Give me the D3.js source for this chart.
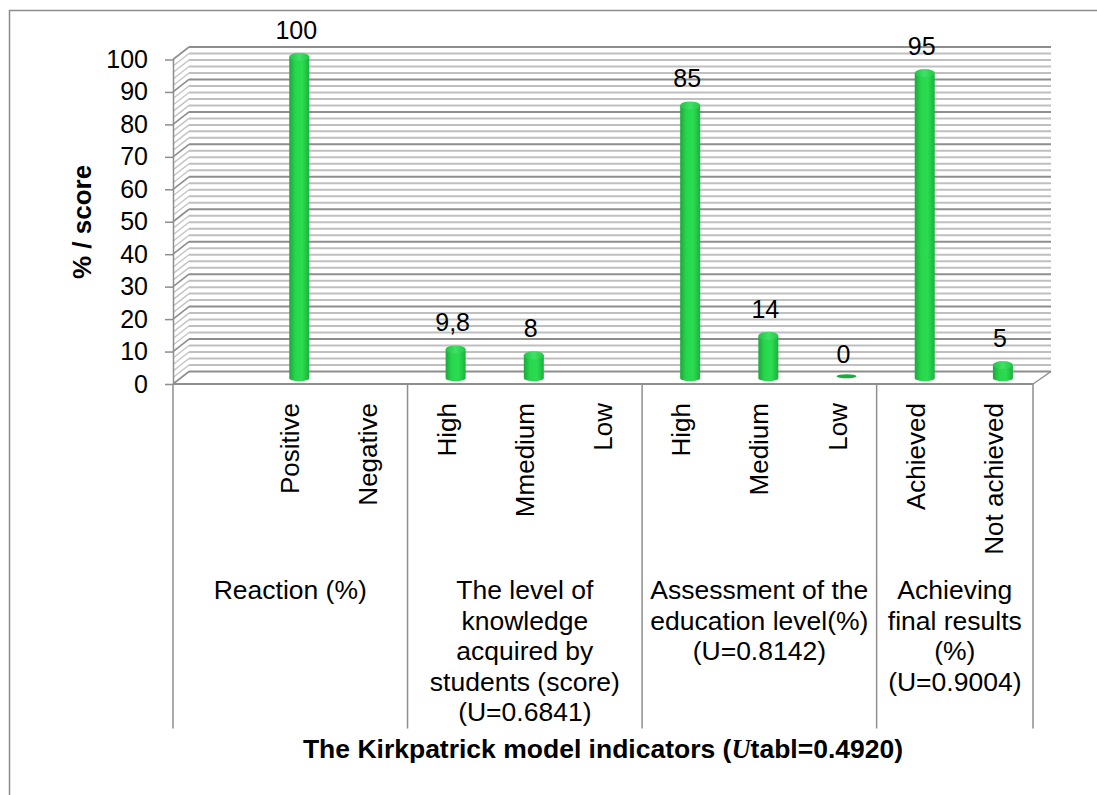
<!DOCTYPE html>
<html>
<head>
<meta charset="utf-8">
<script src="https://cdn.jsdelivr.net/npm/d3@7"></script>
<style>
  html, body { margin: 0; padding: 0; background: #fff; }
  text { font-family: "Liberation Sans", Arial, sans-serif; fill: #000; }
</style>
</head>
<body>
<svg id="viz" width="1097" height="795" style="display:block"></svg>
<script>
// data
var categories = ['', 'Positive', 'Negative', 'High', 'Mmedium', 'Low', 'High', 'Medium', 'Low', 'Achieved', 'Not achieved'];
var values = [null, 100, null, 9.8, 8, null, 85, 14, 0, 95, 5];
var valueLabels = ['', '100', '', '9,8', '8', '', '85', '14', '0', '95', '5'];
var groupSizes = [3, 3, 3, 2];
var groupLabels = [
  ['Reaction (%)'],
  ['The level of', 'knowledge', 'acquired by', 'students (score)', '(U=0.6841)'],
  ['Assessment of the', 'education level(%)', '(U=0.8142)'],
  ['Achieving', 'final results', '(%)', '(U=0.9004)']
];
var yTicks = [0, 10, 20, 30, 40, 50, 60, 70, 80, 90, 100];
var minorTicks = d3.range(0, 101, 2);

var svg = d3.select('#viz');

var fontSize = 25;
var catFontSize = 26;
var groupFontSize = 26.5;
var depthX = 18, depthY = 12.5;   // offset of the back wall
var barW = 20, capRy = 4;

var x = d3.scaleBand().domain(d3.range(categories.length)).range([173, 1033]);
var y = d3.scaleLinear().domain([0, 100]).range([384, 59.5]);

// gradients for the cylinders
var defs = svg.append('defs');
var side = defs.append('linearGradient').attr('id', 'barSide');
side.append('stop').attr('offset', '0%').attr('stop-color', '#1aa83c');
side.append('stop').attr('offset', '30%').attr('stop-color', '#27d64c');
side.append('stop').attr('offset', '65%').attr('stop-color', '#2bdc50');
side.append('stop').attr('offset', '100%').attr('stop-color', '#1cb03f');
var cap = defs.append('linearGradient').attr('id', 'barCap');
cap.append('stop').attr('offset', '0%').attr('stop-color', '#22c246');
cap.append('stop').attr('offset', '50%').attr('stop-color', '#3fe264');
cap.append('stop').attr('offset', '100%').attr('stop-color', '#24c448');

// outer frame
svg.append('path')
  .attr('d', 'M1097 10.5 H9.5 V795')
  .attr('fill', 'none').attr('stroke', '#8c8c8c').attr('stroke-width', 1.5);

// back wall grid
var wallLeft = x.range()[0] + depthX - 2, wallRight = x.range()[1] + depthX;
svg.append('g').selectAll('line').data(minorTicks).enter().append('line')
  .attr('x1', wallLeft).attr('x2', wallRight)
  .attr('y1', d => y(d) - depthY).attr('y2', d => y(d) - depthY)
  .attr('stroke', d => d % 10 == 0 ? '#8e8e8e' : '#bfbfbf')
  .attr('stroke-width', 2);

// side wall grid
svg.append('g').selectAll('line').data(minorTicks).enter().append('line')
  .attr('x1', x.range()[0]).attr('x2', wallLeft)
  .attr('y1', d => y(d)).attr('y2', d => y(d) - depthY)
  .attr('stroke', d => d % 10 == 0 ? '#8e8e8e' : '#c4c4c4')
  .attr('stroke-width', d => d % 10 == 0 ? 1.6 : 1.4);

// floor edge on the right
svg.append('line')
  .attr('x1', x.range()[1]).attr('y1', y(0))
  .attr('x2', wallRight).attr('y2', y(0) - depthY)
  .attr('stroke', '#8e8e8e').attr('stroke-width', 1.5);

// value axis
var yAxis = d3.axisLeft(y).tickValues(yTicks).tickSize(8).tickPadding(17);
var yG = svg.append('g').attr('transform', 'translate(' + x.range()[0] + ',0)').call(yAxis);
yG.selectAll('path, line').attr('stroke', '#8e8e8e').attr('stroke-width', 1.5);
yG.select('path').attr('d', 'M0.5,' + y(100) + 'V' + y(0));
yG.selectAll('text').style('font-size', fontSize + 'px')
  .style('font-family', '"Liberation Sans", Arial, sans-serif').attr('fill', '#000');

// category axis line with group dividers
svg.append('line')
  .attr('x1', x.range()[0]).attr('x2', x.range()[1])
  .attr('y1', y(0)).attr('y2', y(0))
  .attr('stroke', '#8e8e8e').attr('stroke-width', 1.8);

var groupEdges = [0];
groupSizes.forEach(function(n) { groupEdges.push(groupEdges[groupEdges.length - 1] + n); });
var slotX = i => x.range()[0] + i * x.bandwidth();

svg.append('g').selectAll('line').data(groupEdges).enter().append('line')
  .attr('x1', d => slotX(d)).attr('x2', d => slotX(d))
  .attr('y1', y(0)).attr('y2', 728.5)
  .attr('stroke', '#8e8e8e').attr('stroke-width', 1.5);

// bars as cylinders
var barData = values.map((v, i) => ({ v: v, i: i, label: valueLabels[i] })).filter(d => d.v !== null);
var barX = d => x(d.i) + x.bandwidth() / 2 + depthX / 2;
var floorY = y(0) - depthY / 2 + 0.5;
var topY = d => y(d.v) - depthY / 2 + capRy - 0.5;

var bars = svg.append('g').selectAll('g').data(barData).enter().append('g');
bars.filter(d => d.v > 0).append('rect')
  .attr('x', d => barX(d) - barW / 2).attr('width', barW)
  .attr('y', d => topY(d)).attr('height', d => floorY - topY(d))
  .attr('fill', 'url(#barSide)');
bars.filter(d => d.v > 0).append('ellipse')
  .attr('cx', barX).attr('cy', floorY).attr('rx', barW / 2).attr('ry', capRy - 1)
  .attr('fill', 'url(#barSide)');
bars.filter(d => d.v > 0).append('ellipse')
  .attr('cx', barX).attr('cy', topY).attr('rx', barW / 2).attr('ry', capRy)
  .attr('fill', 'url(#barCap)');
bars.filter(d => d.v == 0).append('ellipse')
  .attr('cx', barX).attr('cy', floorY - 2).attr('rx', barW / 2).attr('ry', 2)
  .attr('fill', '#1fa83f');

// value labels
svg.append('g').selectAll('text').data(barData).enter().append('text')
  .attr('x', d => barX(d) - 3)
  .attr('y', d => y(d.v) - 21)
  .attr('text-anchor', 'middle')
  .style('font-size', fontSize + 'px')
  .text(d => d.label);

// rotated category labels
svg.append('g').selectAll('text').data(categories).enter().append('text')
  .attr('transform', (d, i) => 'translate(' + (x(i) + x.bandwidth() / 2 + 9) + ',403)rotate(-90)')
  .attr('text-anchor', 'end')
  .style('font-size', catFontSize + 'px')
  .text(d => d);

// group labels
groupLabels.forEach(function(lines, g) {
  var cx = (slotX(groupEdges[g]) + slotX(groupEdges[g + 1])) / 2;
  var t = svg.append('text').attr('text-anchor', 'middle').style('font-size', groupFontSize + 'px');
  t.selectAll('tspan').data(lines).enter().append('tspan')
    .attr('x', cx).attr('y', (d, i) => 599 + i * 30.5)
    .text(d => d);
});

// axis titles
svg.append('text')
  .attr('transform', 'translate(91,222)rotate(-90)')
  .attr('text-anchor', 'middle')
  .style('font-size', '26px').style('font-weight', 'bold')
  .text('% / score');

var title = svg.append('text')
  .attr('x', 603).attr('y', 758)
  .attr('text-anchor', 'middle')
  .style('font-size', '26.5px').style('font-weight', 'bold');
title.append('tspan').text('The Kirkpatrick model indicators (');
title.append('tspan').style('font-family', '"Liberation Serif", serif').style('font-style', 'italic').text('U');
title.append('tspan').text('tabl=0.4920)');
</script>
</body>
</html>
